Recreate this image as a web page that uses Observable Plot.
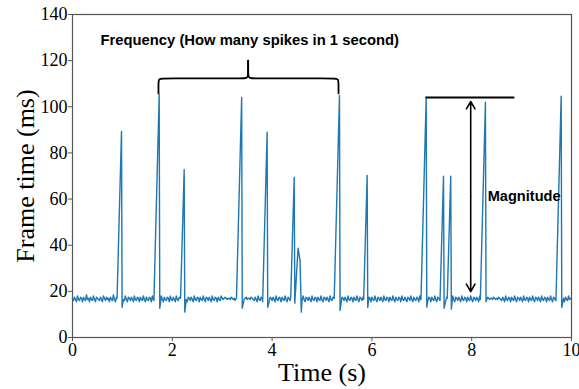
<!DOCTYPE html>
<html>
<head>
<meta charset="utf-8">
<script src="https://cdn.jsdelivr.net/npm/d3@7"></script>
<script src="https://cdn.jsdelivr.net/npm/@observablehq/plot@0.6"></script>
<style>
  html, body { margin: 0; padding: 0; background: white; }
</style>
</head>
<body>
<div id="chart"></div>
<script>
// ---- Data ----
const xTicks = [0, 2, 4, 6, 8, 10];
const yTicks = [0, 20, 40, 60, 80, 100, 120, 140];

// baseline frame times (ms), evenly spaced from 0 s to 10 s
const baseline = [
17,16,17.5,16.5,15.5,18,16.5,16,17.5,17,15.5,17.5,16.5,16,18.5,16.5,17,15.5,17.5,16.5,16,18,16.5,15.5,17.5,17,16.5,16,17.5,16.5,15.5,18,17,16,17.5,16.5,17,15.5,17.5,16.5,16,18.5,16.5,15.5,17.5,17,16,17.5,16.5,15.5,
17.5,16.5,16,18,16.5,15.5,17.5,17,16,17.5,16.5,15.5,18,16.5,16,17.5,17,15.5,17.5,16.5,16,18,16.5,15.5,17.5,16.5,16,17.5,17,15.5,18,16.5,16,17.5,16.5,15.5,17.5,17,16,18,16.5,15.5,17.5,16.5,16,17.5,17,15.5,18,16.5,
16,17.5,16.5,15.5,18,16.5,16,17.5,17,15.5,17.5,16.5,16,18,16.5,15.5,17.5,17,16,17.5,16.5,15.5,18,16.5,16,17.5,17,15.5,17.5,16.5,16,18,16.5,15.5,17.5,17,16,17.5,16.5,15.5,18,16.5,16,17.5,17,15.5,17.5,16.5,16,18,
17,16.5,17,17.5,17,16.5,17,17,16.5,17.5,17,16.5,17,16,17,16.5,17,16.5,17.5,17,16.5,17,16.5,17,17.5,16.5,17,17,16.5,17.5,17,16.5,16,17.5,16.5,15.5,18,16.5,16,17.5,17,15.5,17.5,16.5,16,18,16.5,15.5,17.5,17,
16,17.5,16.5,15.5,18,16.5,16,17.5,17,15.5,17.5,16.5,16,18,16.5,15.5,17.5,17,16,17.5,16.5,15.5,18,16.5,16,17.5,17,15.5,17.5,16.5,16,18,16.5,15.5,17.5,17,16,17.5,16.5,15.5,18,16.5,16,17.5,17,15.5,17.5,16.5,16,18,
16.5,15.5,17.5,17,16,17.5,16.5,15.5,18,16.5,16,17.5,17,15.5,17.5,16.5,16,18,16.5,15.5,17.5,17,16,17.5,16.5,15.5,18,16.5,16,17.5,17,15.5,17.5,16.5,16,18,16.5,15.5,17.5,17,16,17.5,16.5,15.5,18,16.5,16,17.5,17,15.5,
17.5,16.5,16,18,16.5,15.5,17.5,17,16,17.5,16.5,15.5,18,16.5,16,17.5,17,15.5,17.5,16.5,16,18,16.5,15.5,17.5,16.5,16,17.5,17,15.5,18,16.5,16,17.5,16.5,15.5,17.5,17,16,18,16.5,15.5,17.5,16.5,16,17.5,17,15.5,18,16.5,
16,17.5,16.5,15.5,18,16.5,16,17.5,17,15.5,17.5,16.5,16,18,16.5,15.5,17.5,17,16,17.5,16.5,15.5,18,16.5,16,17.5,17,15.5,17.5,16.5,16,18,16.5,15.5,17.5,17,16,17.5,16.5,15.5,18,16.5,16,17.5,17,15.5,17.5,16.5,16,18,
16.5,15.5,17.5,17,16,17.5,16.5,15.5,18,16.5,16,17.5,17,16.5,17,16.5,17.5,17,16.5,17,17,16.5,17.5,17,16.5,17,16.5,17.5,17,16.5,16,17.5,16.5,15.5,18,16.5,16,17.5,17,15.5,17.5,16.5,16,18,16.5,15.5,17.5,17,16,17.5,
16.5,15.5,18,16.5,16,17.5,17,15.5,17.5,16.5,16,18,16.5,15.5,17.5,17,16,17.5,16.5,15.5,18,16.5,16,17.5,17,15.5,17.5,16.5,16,18,16.5,15.5,17.5,17,16,17.5,16.5,15.5,18,16.5,16,17.5,17,15.5,17.5,16.5,16,18,16.5,17,
16.5
];

// spikes: peak time (s), peak frame time (ms), dip right after (ms)
const spikeT = [0.982, 1.737, 2.238, 3.39, 3.90, 4.443, 5.35, 5.905, 7.088, 7.435, 7.58, 8.275, 9.793];
const spikeV = [89.3, 105.3, 72.7, 104, 89, 69.5, 104.9, 70.2, 104.2, 69.9, 69.9, 102, 104.6];
const dipV   = [13.1, 12.7, 11, 12.7, 13.1, 14.9, 11.7, 13, 13.2, 12.7, 12.3, 15.5, 13.1];
// small after-shock following the spike at 4.44 s
const extraT = [4.52, 4.56, 4.585];
const extraV = [38.7, 33.4, 11];

// annotations
const freqText = "Frequency (How many spikes in 1 second)";
const magText = "Magnitude";
const braceLeftX  = [1.723, 1.723, 1.723, 1.80, 3.44, 3.52, 3.52, 3.52];
const braceRightX = [5.331, 5.331, 5.331, 5.25, 3.60, 3.52, 3.52, 3.52];
const braceY      = [105.8, 109, 112.3, 112.3, 112.3, 112.3, 116, 120];
const magLineX = [7.09, 8.84];
const magLineY = 104;
const arrowX = 7.98;
const arrowY = [102.3, 19.9];

// ---- Build series ----
const step = 10 / (baseline.length - 1);
const excl = spikeT.map((t, i) => [t - spikeV[i] / 1000, t + 0.03]);
excl.push([4.44, 4.60]);
const pts = [];
baseline.forEach((v, i) => {
  const t = i * step;
  if (!excl.some(([a, b]) => t >= a && t <= b)) pts.push({t, v});
});
spikeT.forEach((t, i) => {
  const t0 = t - spikeV[i] / 1000;
  pts.push({t: t0, v: baseline[Math.round(t0 / step)]});
  pts.push({t, v: spikeV[i]});
  pts.push({t: t + 0.012, v: dipV[i]});
});
extraT.forEach((t, i) => pts.push({t, v: extraV[i]}));
pts.sort((a, b) => a.t - b.t);

const brace = [
  ...braceLeftX.map((x, i) => ({x, y: braceY[i], side: "L"})),
  ...braceRightX.map((x, i) => ({x, y: braceY[i], side: "R"}))
];
const magLine = magLineX.map(x => ({x, y: magLineY}));
const arrowMid = (arrowY[0] + arrowY[1]) / 2;

const sans = "'Liberation Sans', Arial, sans-serif";

const chart = Plot.plot({
  width: 579,
  height: 389,
  marginLeft: 72,
  marginRight: 8,
  marginTop: 14,
  marginBottom: 52,
  style: {fontFamily: "'Liberation Serif', 'Times New Roman', serif", fontSize: "18px", background: "white", color: "black"},
  x: {domain: [0, 10], label: null},
  y: {domain: [0, 140], label: null},
  marks: [
    Plot.frame({stroke: "#555", strokeWidth: 1.2}),
    Plot.axisX({ticks: xTicks, tickSize: 4, tickPadding: 2, label: null, stroke: "#555", fontSize: 18, tickFormat: d => String(d)}),
    Plot.axisY({ticks: yTicks, tickSize: 4, tickPadding: 1, label: null, stroke: "#555", fontSize: 18, tickFormat: d => String(d)}),
    Plot.line(pts, {x: "t", y: "v", stroke: "#1f77b4", strokeWidth: 1.4}),
    Plot.line(brace, {x: "x", y: "y", z: "side", curve: "basis", stroke: "black", strokeWidth: 1.8}),
    Plot.line(magLine, {x: "x", y: "y", stroke: "black", strokeWidth: 2}),
    Plot.arrow([{y1: arrowMid, y2: arrowY[0]}, {y1: arrowMid, y2: arrowY[1]}], {x: arrowX, y1: "y1", y2: "y2", stroke: "black", strokeWidth: 1.6, headLength: 8}),
    Plot.text([freqText], {x: 0.56, y: 128.9, text: d => d, textAnchor: "start", fontFamily: sans, fontWeight: "bold", fontSize: 14.8}),
    Plot.text([magText], {x: 8.32, y: 61.1, text: d => d, textAnchor: "start", fontFamily: sans, fontWeight: "bold", fontSize: 14.6}),
    Plot.text(["Time (s)"], {frameAnchor: "bottom", dy: 35, text: d => d, fontSize: 26, textAnchor: "middle", lineAnchor: "middle"}),
    Plot.text(["Frame time (ms)"], {frameAnchor: "left", dx: -47, rotate: -90, text: d => d, fontSize: 26, textAnchor: "middle", lineAnchor: "middle"})
  ]
});
document.getElementById("chart").appendChild(chart);
</script>
</body>
</html>
